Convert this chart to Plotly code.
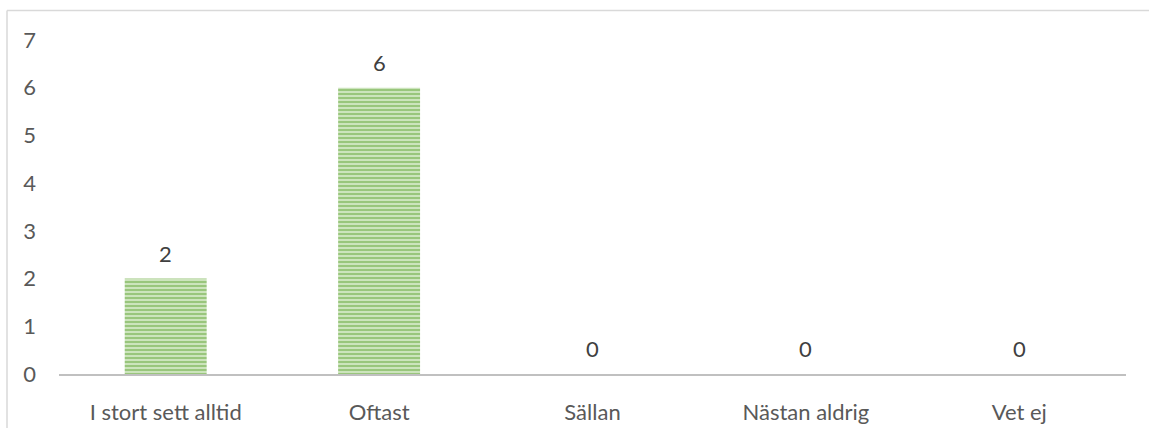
import plotly.graph_objects as go

categories = ["I stort sett alltid", "Oftast", "Sällan", "Nästan aldrig", "Vet ej"]
values = [2, 6, 0, 0, 0]
y_ticks = [0, 1, 2, 3, 4, 5, 6, 7]

FONT = "Lato"
TXT = "#595959"
FS = 22

fig = go.Figure()
fig.add_trace(go.Bar(
    x=categories,
    y=values,
    marker=dict(
        color="#C5E0B4",
        line=dict(width=0),
        pattern=dict(shape="-", size=4, solidity=0.55, fgcolor="#5FA336", bgcolor="#D2E8C3"),
    ),
    hoverinfo="skip",
))

for c, v in zip(categories, values):
    fig.add_annotation(x=c, y=v, text=str(v), showarrow=False, yanchor="bottom",
                       yshift=10, font=dict(family=FONT, size=FS, color="#404040"))

# chart-area border (left and top edges visible)
x_left = (7 - 59) / 1067
y_top = (374 - 10.5) / 334
fig.add_shape(type="line", xref="paper", yref="paper", x0=x_left, x1=x_left, y0=-0.3, y1=y_top,
              line=dict(color="#D9D9D9", width=1.5))
fig.add_shape(type="line", xref="paper", yref="paper", x0=x_left, x1=1.2, y0=y_top, y1=y_top,
              line=dict(color="#D9D9D9", width=1.5))

fig.update_layout(
    width=1149, height=428,
    margin=dict(l=59, r=23, t=40, b=54, autoexpand=False),
    paper_bgcolor="white", plot_bgcolor="white",
    bargap=0.616,
    showlegend=False,
    font=dict(family=FONT, size=FS, color=TXT),
)
fig.update_xaxes(showline=True, linecolor="#C0C0C0", linewidth=2, showgrid=False, automargin=False,
                 ticks="", ticklabelstandoff=18, tickfont=dict(family=FONT, size=FS, color=TXT))
fig.update_yaxes(range=[0, 7], tickvals=y_ticks, showgrid=False, zeroline=False, showline=False,
                 automargin=False,
                 ticks="", ticklabelstandoff=22, tickfont=dict(family=FONT, size=FS, color=TXT))

fig.write_html("out.html", config={"displayModeBar": False},
               post_script="document.body.style.margin='0px';")
